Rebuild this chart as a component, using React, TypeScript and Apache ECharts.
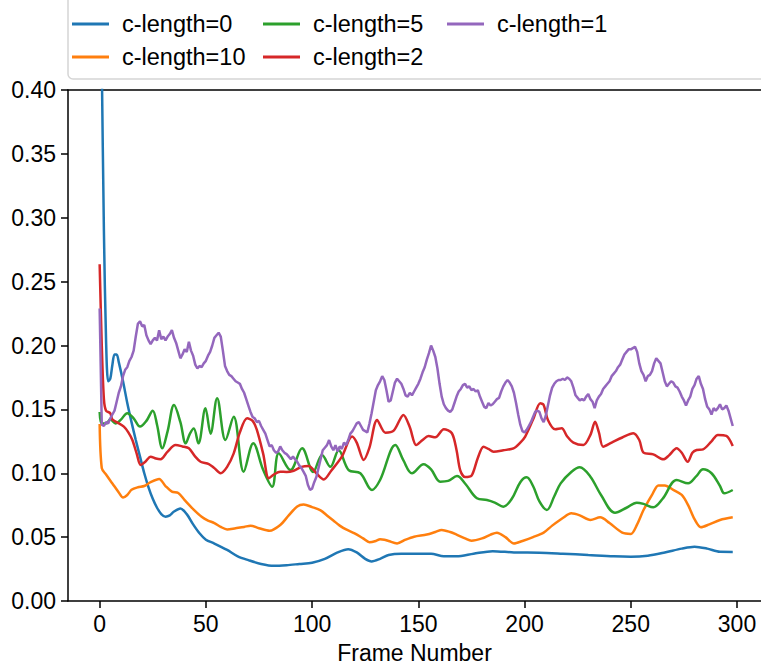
import React, { useEffect, useRef } from "react";
import * as echarts from "echarts";

const FONT = "'Liberation Sans', Arial, sans-serif";

const seriesNames = ["c-length=0", "c-length=10", "c-length=5", "c-length=2", "c-length=1"];
const seriesColors = ["#1f77b4", "#ff7f0e", "#2ca02c", "#d62728", "#9467bd"];
const xTickValues = [0, 50, 100, 150, 200, 250, 300];
const xAxisTitle = "Frame Number";

const cLength0: [number, number][] = [
  [0, 0.55], [1, 0.42], [2, 0.29], [3, 0.205], [4, 0.172], [5, 0.174], [6, 0.185], [7, 0.193], [8, 0.193], [9, 0.187],
  [11, 0.172], [13, 0.155], [15, 0.14], [17, 0.126], [19, 0.113], [21, 0.1], [23, 0.089], [25, 0.08], [27, 0.073], [29, 0.068],
  [31, 0.066], [33, 0.067], [35, 0.07], [38, 0.0725], [41, 0.068], [44, 0.06], [47, 0.053], [50, 0.048], [54, 0.045], [60, 0.04],
  [65, 0.035], [70, 0.032], [76, 0.029], [82, 0.0275], [88, 0.028], [94, 0.029], [100, 0.03], [106, 0.033], [112, 0.038], [117, 0.0405],
  [121, 0.038], [125, 0.033], [128, 0.031], [132, 0.033], [136, 0.036], [142, 0.037], [148, 0.037], [156, 0.037], [162, 0.035], [168, 0.035],
  [176, 0.037], [185, 0.039], [195, 0.038], [207, 0.0378], [218, 0.037], [230, 0.036], [242, 0.035], [250, 0.0347], [258, 0.0355], [266, 0.038],
  [274, 0.041], [280, 0.0425], [286, 0.041], [292, 0.0385], [298, 0.0384],
];

const cLength10: [number, number][] = [
  [0, 0.1385], [1, 0.104], [3, 0.099], [6, 0.092], [9, 0.085], [11, 0.081], [13, 0.083], [15, 0.087], [18, 0.089], [21, 0.09],
  [24, 0.093], [28, 0.0955], [31, 0.09], [34, 0.0856], [37, 0.0845], [40, 0.079], [44, 0.072], [48, 0.066], [51, 0.063], [54, 0.061],
  [57, 0.058], [60, 0.056], [64, 0.057], [68, 0.058], [71, 0.059], [75, 0.057], [80, 0.055], [85, 0.0595], [89, 0.067], [93, 0.074],
  [96, 0.0755], [100, 0.0735], [104, 0.071], [107, 0.067], [110, 0.063], [113, 0.059], [116, 0.056], [120, 0.053], [124, 0.049], [127, 0.046],
  [130, 0.047], [132, 0.0483], [134, 0.048], [136, 0.047], [140, 0.0451], [144, 0.048], [148, 0.0503], [154, 0.052], [158, 0.054], [161, 0.0556],
  [165, 0.054], [168, 0.052], [172, 0.049], [175, 0.0472], [180, 0.049], [184, 0.052], [187, 0.0535], [191, 0.05], [195, 0.045], [199, 0.047],
  [204, 0.05], [209, 0.0535], [213, 0.059], [218, 0.065], [222, 0.0686], [226, 0.067], [231, 0.0634], [235.6, 0.0655], [240, 0.061], [246, 0.0535],
  [250, 0.0525], [253, 0.06], [256, 0.0712], [260, 0.083], [263, 0.0905], [266, 0.0905], [270, 0.087], [274, 0.083], [277, 0.075], [280, 0.064],
  [283, 0.0577], [287, 0.06], [292, 0.0634], [298, 0.0655],
];

const cLength5: [number, number][] = [
  [0, 0.148], [1, 0.139], [3, 0.139], [5, 0.142], [7.5, 0.139], [10, 0.142], [13, 0.147], [16, 0.143], [19, 0.1365], [22, 0.141],
  [25, 0.149], [27, 0.138], [29.5, 0.1195], [32, 0.133], [35, 0.1534], [38, 0.14], [40.5, 0.1234], [42.5, 0.131], [44.3, 0.135], [46.5, 0.1234],
  [49.8, 0.1508], [52.2, 0.131], [55.3, 0.1587], [59.2, 0.126], [63.1, 0.1443], [67.8, 0.1012], [72.3, 0.1234], [77, 0.1025], [81.2, 0.0895], [84.3, 0.1156],
  [89.8, 0.1025], [95.3, 0.1195], [100.5, 0.101], [104.7, 0.1143], [108.6, 0.105], [112.5, 0.118], [117.2, 0.1025], [122.7, 0.1], [128.2, 0.0869], [132, 0.0947],
  [139.2, 0.1221], [143, 0.11], [147, 0.1], [152.5, 0.107], [156, 0.103], [160.3, 0.0934], [164, 0.094], [168.2, 0.0978], [172, 0.092], [177.6, 0.0804],
  [182.3, 0.079], [186, 0.077], [190, 0.0738], [194, 0.08], [198, 0.093], [201, 0.0968], [204, 0.09], [207, 0.078], [210.5, 0.0712], [214, 0.082],
  [217, 0.0921], [222, 0.101], [226, 0.1047], [231, 0.0973], [236, 0.083], [242.6, 0.0691], [248, 0.073], [252.8, 0.077], [256, 0.076], [260.6, 0.0733],
  [265, 0.08], [271.6, 0.0947], [277, 0.0921], [281, 0.098], [284, 0.1031], [288, 0.1], [292, 0.09], [294, 0.0843], [298, 0.0869],
];

const cLength2: [number, number][] = [
  [0, 0.2636], [1, 0.2], [2, 0.158], [3, 0.149], [5, 0.147], [6, 0.142], [8, 0.14], [11.4, 0.1365], [13.5, 0.132], [15.4, 0.126],
  [17.5, 0.115], [19.3, 0.1065], [21.5, 0.109], [24, 0.113], [26.5, 0.1115], [28.7, 0.111], [32, 0.117], [35.7, 0.1221], [39, 0.121], [42, 0.1195],
  [45, 0.113], [47.5, 0.109], [51.4, 0.1072], [54, 0.104], [56.9, 0.1], [60, 0.105], [63.1, 0.1156], [66, 0.132], [69.4, 0.143], [72, 0.141],
  [74, 0.1339], [77, 0.115], [79.6, 0.096], [82, 0.099], [85, 0.1012], [88, 0.101], [91.3, 0.102], [95, 0.105], [98.4, 0.1057], [102, 0.1],
  [105.5, 0.0952], [109, 0.102], [114, 0.113], [118.8, 0.1287], [121, 0.124], [124.3, 0.1104], [127, 0.12], [130.6, 0.1417], [134.5, 0.1317], [138.4, 0.1333],
  [143, 0.1456], [146, 0.136], [149, 0.1221], [152, 0.126], [154.8, 0.1292], [158, 0.1281], [162, 0.1344], [165.8, 0.1313], [168, 0.118], [169.7, 0.1025],
  [172, 0.097], [175, 0.098], [178, 0.112], [180.7, 0.1208], [183, 0.119], [185.4, 0.1169], [190, 0.118], [194.8, 0.1195], [198, 0.124], [200.3, 0.1287],
  [204, 0.142], [207.4, 0.1548], [209, 0.1534], [211, 0.1417], [214.4, 0.1344], [217.5, 0.1352], [220, 0.129], [223, 0.124], [227.7, 0.1221], [231, 0.13],
  [233.2, 0.1404], [235, 0.132], [237, 0.1208], [241, 0.124], [246, 0.128], [251.2, 0.1313], [254, 0.126], [256, 0.1161], [260.6, 0.1148], [265.3, 0.1109],
  [268, 0.114], [271.6, 0.1195], [274, 0.116], [276.8, 0.109], [279, 0.116], [281, 0.1182], [284, 0.1187], [288, 0.125], [291, 0.13], [295, 0.1292],
  [298, 0.1213],
];

const cLength1: [number, number][] = [
  [0, 0.229], [1, 0.138], [2, 0.137], [3, 0.14], [4, 0.139], [5, 0.143], [6, 0.146], [7, 0.149], [8, 0.156], [9, 0.163],
  [10, 0.168], [11, 0.176], [12, 0.181], [13, 0.183], [14, 0.188], [15, 0.191], [16, 0.196], [17, 0.207], [18, 0.217], [19, 0.219],
  [20, 0.215], [21, 0.216], [22, 0.208], [23, 0.204], [24, 0.201], [25, 0.204], [26, 0.206], [27, 0.204], [28, 0.212], [29, 0.205],
  [30, 0.207], [31, 0.204], [32, 0.207], [33, 0.209], [34, 0.212], [35, 0.206], [36, 0.202], [37, 0.196], [38, 0.19], [39, 0.193],
  [40, 0.197], [41, 0.195], [42, 0.203], [43, 0.196], [44, 0.192], [45, 0.185], [46, 0.182], [47, 0.184], [48, 0.183], [49, 0.186],
  [50, 0.188], [51, 0.192], [52, 0.195], [53, 0.2], [54, 0.206], [55, 0.208], [56, 0.21], [57, 0.207], [58, 0.196], [59, 0.184],
  [60, 0.18], [61, 0.177], [62, 0.176], [63, 0.174], [64, 0.172], [65, 0.171], [66, 0.17], [67, 0.166], [68, 0.163], [69, 0.158],
  [70, 0.153], [71, 0.148], [72, 0.144], [73, 0.143], [74, 0.14], [75, 0.141], [76, 0.137], [77, 0.134], [78, 0.131], [79, 0.126],
  [80, 0.121], [81, 0.122], [82, 0.118], [83, 0.116], [84, 0.117], [85, 0.121], [86, 0.118], [87, 0.116], [88, 0.115], [89, 0.113],
  [90, 0.111], [91, 0.113], [92, 0.111], [93, 0.109], [94, 0.106], [95, 0.104], [96, 0.101], [97, 0.098], [98, 0.091], [99, 0.087],
  [100, 0.088], [101, 0.093], [102, 0.097], [103, 0.104], [104, 0.111], [105, 0.118], [106, 0.12], [107, 0.122], [108, 0.126], [109, 0.121],
  [110, 0.118], [111, 0.122], [112, 0.117], [113, 0.121], [114, 0.119], [115, 0.124], [116, 0.122], [117, 0.126], [118, 0.131], [119, 0.133],
  [120, 0.136], [121, 0.139], [122, 0.14], [123, 0.137], [124, 0.134], [125, 0.133], [126, 0.132], [127, 0.139], [128, 0.147], [129, 0.156],
  [130, 0.165], [131, 0.169], [132, 0.172], [133, 0.176], [134, 0.173], [135, 0.165], [136, 0.156], [137, 0.157], [138, 0.164], [139, 0.171],
  [140, 0.174], [141, 0.172], [142, 0.17], [143, 0.166], [144, 0.161], [145, 0.16], [146, 0.163], [147, 0.161], [148, 0.164], [149, 0.167],
  [150, 0.17], [151, 0.174], [152, 0.179], [153, 0.183], [154, 0.189], [155, 0.194], [156, 0.2], [157, 0.196], [158, 0.191], [159, 0.182],
  [160, 0.17], [161, 0.16], [162, 0.154], [163, 0.151], [164, 0.149], [165, 0.148], [166, 0.15], [167, 0.155], [168, 0.16], [169, 0.164],
  [170, 0.166], [171, 0.169], [172, 0.17], [173, 0.167], [174, 0.168], [175, 0.165], [176, 0.166], [177, 0.164], [178, 0.165], [179, 0.16],
  [180, 0.156], [181, 0.152], [182, 0.151], [183, 0.155], [184, 0.153], [185, 0.154], [186, 0.156], [187, 0.158], [188, 0.159], [189, 0.164],
  [190, 0.168], [191, 0.171], [192, 0.173], [193, 0.171], [194, 0.168], [195, 0.163], [196, 0.155], [197, 0.146], [198, 0.138], [199, 0.133],
  [200, 0.132], [201, 0.134], [202, 0.137], [203, 0.14], [204, 0.144], [205, 0.148], [206, 0.149], [207, 0.148], [208, 0.143], [209, 0.14],
  [210, 0.145], [211, 0.153], [212, 0.161], [213, 0.167], [214, 0.17], [215, 0.172], [216, 0.173], [217, 0.173], [218, 0.174], [219, 0.173],
  [220, 0.175], [221, 0.174], [222, 0.172], [223, 0.167], [224, 0.161], [225, 0.159], [226, 0.157], [227, 0.158], [228, 0.157], [229, 0.16],
  [230, 0.162], [231, 0.158], [232, 0.156], [233, 0.151], [234, 0.157], [235, 0.16], [236, 0.162], [237, 0.166], [238, 0.168], [239, 0.17],
  [240, 0.172], [241, 0.176], [242, 0.178], [243, 0.18], [244, 0.183], [245, 0.185], [246, 0.189], [247, 0.193], [248, 0.195], [249, 0.197],
  [250, 0.197], [251, 0.198], [252, 0.199], [253, 0.195], [254, 0.186], [255, 0.18], [256, 0.177], [257, 0.172], [258, 0.176], [259, 0.177],
  [260, 0.18], [261, 0.186], [262, 0.19], [263, 0.188], [264, 0.186], [265, 0.179], [266, 0.172], [267, 0.168], [268, 0.17], [269, 0.172],
  [270, 0.171], [271, 0.168], [272, 0.167], [273, 0.164], [274, 0.16], [275, 0.157], [276, 0.153], [277, 0.157], [278, 0.16], [279, 0.166],
  [280, 0.169], [281, 0.174], [282, 0.176], [283, 0.17], [284, 0.166], [285, 0.158], [286, 0.152], [287, 0.15], [288, 0.146], [289, 0.151],
  [290, 0.149], [291, 0.151], [292, 0.154], [293, 0.15], [294, 0.151], [295, 0.153], [296, 0.149], [297, 0.143], [298, 0.137],
];

const seriesData = [cLength0, cLength10, cLength5, cLength2, cLength1];
const seriesSmooth = [0.3, 0.3, 0.35, 0.3, false];

export default function App() {
  const ref = useRef<HTMLDivElement>(null);
  useEffect(() => {
    if (!ref.current) return;
    const chart = echarts.init(ref.current, null, { renderer: "svg" });
    const textBase = { fontFamily: FONT, fontSize: 23, color: "#000" };
    const legendCommon = {
      orient: "vertical",
      top: 12,
      padding: 0,
      itemWidth: 37,
      itemHeight: 3,
      itemGap: 9,
      icon: "rect",
      selectedMode: false,
      textStyle: { ...textBase, fontSize: 23.5, lineHeight: 24, padding: [0, 0, 0, 8] },
    };
    chart.setOption({
      animation: false,
      backgroundColor: "#fff",
      textStyle: { fontFamily: FONT },
      grid: { left: 68, right: 0, top: 90, bottom: 63, containLabel: false, outerBoundsMode: "none" },
      graphic: [
        {
          type: "rect",
          z: 0,
          shape: { x: 68, y: -20, width: 720, height: 99, r: 5 },
          style: { fill: "rgba(255,255,255,0.8)", stroke: "#d5d5d5", lineWidth: 1.5 },
        },
      ],
      legend: [
        { ...legendCommon, left: 72, data: [seriesNames[0], seriesNames[1]] },
        { ...legendCommon, left: 263, data: [seriesNames[2], seriesNames[3]] },
        { ...legendCommon, left: 447, data: [seriesNames[4]] },
      ],
      xAxis: [
        {
          type: "value",
          min: -14.9,
          max: 311.3,
          name: xAxisTitle,
          nameLocation: "middle",
          nameGap: 40,
          nameTextStyle: textBase,
          axisLine: { show: true, onZero: false, lineStyle: { color: "#000", width: 1.5 } },
          axisTick: { show: true, length: 7, customValues: xTickValues, lineStyle: { color: "#000", width: 1.5 } },
          axisLabel: { ...textBase, margin: 11, customValues: xTickValues, formatter: (v: number) => String(v) },
          splitLine: { show: false },
        },
        {
          type: "value",
          position: "top",
          min: -14.9,
          max: 311.3,
          axisLine: { show: true, onZero: false, lineStyle: { color: "#000", width: 1.5 } },
          axisTick: { show: false },
          axisLabel: { show: false },
          splitLine: { show: false },
        },
      ],
      yAxis: {
        type: "value",
        min: 0,
        max: 0.4,
        interval: 0.05,
        axisLine: { show: true, onZero: false, lineStyle: { color: "#000", width: 1.5 } },
        axisTick: { show: true, length: 7, lineStyle: { color: "#000", width: 1.5 } },
        axisLabel: { ...textBase, margin: 12, formatter: (v: number) => v.toFixed(2) },
        splitLine: { show: false },
      },
      series: seriesNames.map((name, i) => ({
        name,
        type: "line",
        xAxisIndex: 0,
        data: seriesData[i],
        smooth: seriesSmooth[i],
        symbol: "none",
        showSymbol: false,
        clip: true,
        color: seriesColors[i],
        lineStyle: { color: seriesColors[i], width: 2.5 },
        z: 2 + i,
      })),
    });
    return () => chart.dispose();
  }, []);
  return (
    <div
      ref={ref}
      style={{ position: "absolute", left: 0, top: 0, width: 761, height: 664, background: "#fff" }}
    />
  );
}
